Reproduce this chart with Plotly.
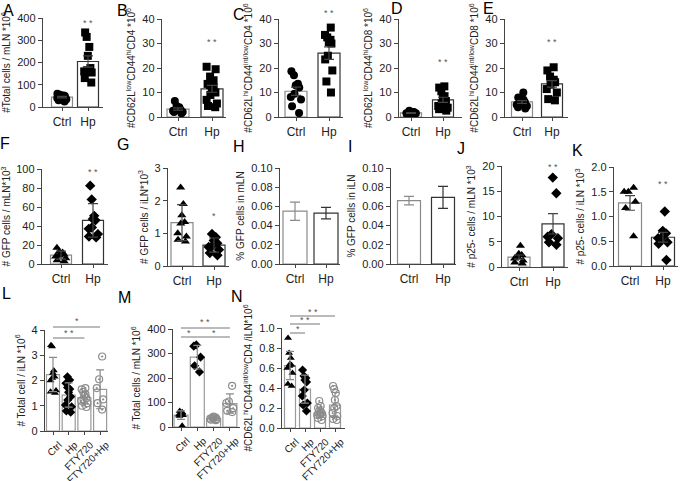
import numpy as np
import plotly.graph_objects as go

W, H = 681, 481

# ---------------- data ----------------
CAT2 = ["Ctrl", "Hp"]
CAT4 = ["Ctrl", "Hp", "FTY720", "FTY720+Hp"]

A_ctrl = [60, 55, 52, 50, 45, 40, 35, 30, 25, 50]
A_hp = [335, 315, 270, 230, 175, 165, 160, 155, 130, 110]

B_ctrl = [6.5, 4.5, 4, 3.5, 3, 3, 2.5, 2, 2, 1.5]
B_hp = [20.5, 19.5, 16.5, 15, 13.5, 13, 12, 11, 10, 9, 7, 5.5, 4.5, 4]

C_ctrl = [18.7, 17, 13.6, 13, 12, 9.5, 8.2, 7.1, 4.4, 1.6]
C_hp = [36.5, 33.5, 32.5, 31.5, 30.5, 30, 25, 23.5, 19, 14.5, 10]

D_ctrl = [2.5, 2, 2, 1.5, 1.5, 1, 1, 1.5, 2]
D_hp = [12.5, 12, 10.5, 8.5, 7.5, 6.5, 5.5, 4.5, 3.8, 3.2, 2.6]

E_ctrl = [10, 8, 7.5, 7, 6.5, 6, 5.5, 5, 4.5, 4, 3.5]
E_hp = [20.3, 19, 16.5, 15.2, 14.8, 14.2, 13.2, 11.4, 10, 7.3, 6.8]

F_ctrl = [17, 13, 12, 11, 10, 9, 8, 6, 4, 3]
F_hp = [82.5, 68, 50.7, 47.5, 46, 38.5, 37, 31.5, 29, 28]

G_ctrl = [2.4, 1.9, 1.55, 1.35, 1.3, 1.0, 0.9, 0.8, 0.75]
G_hp = [0.98, 0.88, 0.78, 0.7, 0.62, 0.58, 0.5, 0.4, 0.33]

H_mean = [0.055, 0.053]
H_err = [0.0095, 0.006]
I_mean = [0.066, 0.0694]
I_err = [0.0044, 0.0115]

J_ctrl = [4.2, 2.6, 2.4, 2.0, 1.7, 1.3, 0.9, 0.7]
J_hp = [17.7, 14.6, 6.5, 6.0, 5.7, 4.9, 4.4]

K_ctrl = [1.58, 1.5, 1.5, 1.3, 1.17, 0.6]
K_hp = [1.1, 0.71, 0.66, 0.57, 0.56, 0.48, 0.45, 0.12]

L_ctrl = [3.4, 3.35, 2.4, 2.3, 2.15, 2.1, 2.0, 1.6, 1.55, 1.5]
L_hp = [2.15, 2.02, 1.89, 1.72, 1.66, 1.53, 1.36, 1.23, 1.03, 0.96, 0.79, 0.74]
L_fty = [1.7, 1.65, 1.55, 1.45, 1.4, 1.3, 1.25, 1.2, 1.1, 1.0, 0.95]
L_ftyhp = [2.95, 2.05, 1.7, 1.25, 1.1, 0.85]

M_ctrl = [65, 60, 57, 55, 52, 50, 48, 45, 5]
M_hp = [335, 330, 285, 250, 225]
M_fty = [42, 38, 36, 34, 32, 30, 28]
M_ftyhp = [168, 104, 98, 77, 66, 61]

N_ctrl = [0.9, 0.75, 0.7, 0.64, 0.63, 0.62, 0.6, 0.55, 0.44, 0.42]
N_hp = [0.58, 0.52, 0.5, 0.48, 0.46, 0.38, 0.32, 0.25, 0.23, 0.17]
N_fty = [0.27, 0.22, 0.2, 0.17, 0.16, 0.15, 0.15, 0.14, 0.13, 0.12, 0.1, 0.08]
N_ftyhp = [0.42, 0.39, 0.35, 0.28, 0.22, 0.2, 0.15, 0.12, 0.09, 0.08]

# ---------------- styles ----------------
FONT = "Liberation Sans, Arial, sans-serif"
DARK = "#222222"
GREY = "#8c8c8c"
S2 = [("circle", "black"), ("square", "black")]
S2b = [("triangle-up", "black"), ("diamond", "black")]
S4 = [("triangle-up", "black"), ("diamond", "black"),
      ("circle-open-dot", GREY), ("circle-open-dot", GREY)]

# geometry in pixels: axis_x, end_x, first_center_x, spacing, top_y, zero_y, bar_px
panels = [
    dict(L="A", lp=(8, 10), cats=CAT2, g=[A_ctrl, A_hp], sym=S2, stat="sem", yr=400, dt=100, fmt="",
         t="#Total cells / mLN *10<sup>6</sup>", geo=(43, 103, 62, 26, 18, 107, 21),
         stars=[(1, 23, "* *")], ms=8),
    dict(L="B", lp=(123, 10), cats=CAT2, g=[B_ctrl, B_hp], sym=S2, stat="sem", yr=40, dt=10, fmt="",
         t="#CD62L<sup>low</sup>CD44<sup>hi</sup>CD4 *10<sup>6</sup>", geo=(162, 226, 178, 34, 19, 117, 22),
         stars=[(1, 42, "* *")], ms=8),
    dict(L="C", lp=(239, 14), cats=CAT2, g=[C_ctrl, C_hp], sym=S2, stat="sem", yr=40, dt=10, fmt="",
         t="#CD62L<sup>hi</sup>CD44<sup>int/low</sup>CD4 *10<sup>6</sup>", geo=(279, 343, 296, 33, 19, 117, 22),
         stars=[(1, 13, "* *")], ms=8),
    dict(L="D", lp=(397, 9), cats=CAT2, g=[D_ctrl, D_hp], sym=S2, stat="sem", yr=40, dt=10, fmt="",
         t="#CD62L<sup>low</sup>CD44<sup>hi</sup>CD8 *10<sup>6</sup>", geo=(399, 462, 411, 32, 19, 117, 21),
         stars=[(1, 62, "* *")], ms=8),
    dict(L="E", lp=(488, 8), cats=CAT2, g=[E_ctrl, E_hp], sym=S2, stat="sem", yr=40, dt=10, fmt="",
         t="#CD62L<sup>hi</sup>CD44<sup>int/low</sup>CD8 *10<sup>6</sup>", geo=(505, 568, 522, 30, 19, 117, 21),
         stars=[(1, 42, "* *")], ms=8),
    dict(L="F", lp=(5, 143), cats=CAT2, g=[F_ctrl, F_hp], sym=S2b, stat="sd", yr=100, dt=20, fmt="",
         t="# GFP cells / mLN*10<sup>3</sup>", geo=(42, 108, 61, 32, 169, 264, 21),
         stars=[(1, 172, "* *")], ms=8),
    dict(L="G", lp=(123, 145), cats=CAT2, g=[G_ctrl, G_hp], sym=S2b, stat="sd", yr=3, dt=1, fmt="",
         t="# GFP cells / iLN*10<sup>3</sup>", geo=(168, 229, 182, 32, 168, 266, 22),
         stars=[(1, 216, "*")], ms=8),
    dict(L="H", lp=(239, 146), cats=CAT2, means=H_mean, errs=H_err, yr=0.10, dt=0.02, fmt=".2f",
         t="% GFP cells in mLN", geo=(280, 340, 295, 31, 168, 264, 24), stars=[]),
    dict(L="I", lp=(350, 146), cats=CAT2, means=I_mean, errs=I_err, yr=0.10, dt=0.02, fmt=".2f",
         t="% GFP cells in iLN", geo=(391, 456, 409, 34, 168, 264, 23), stars=[]),
    dict(L="J", lp=(461, 148), cats=CAT2, g=[J_ctrl, J_hp], sym=S2b, stat="sem", yr=20, dt=5, fmt="",
         t="# p25- cells / mLN *10<sup>3</sup>", geo=(502, 568, 519, 34, 166, 267, 22),
         stars=[(1, 167, "* *")], ms=8),
    dict(L="K", lp=(577, 150), cats=CAT2, g=[K_ctrl, K_hp], sym=S2b, stat="sem", yr=2.0, dt=0.5, fmt=".1f",
         t="# p25- cells / iLN *10<sup>3</sup>", geo=(614, 678, 630, 33, 167, 266, 23),
         stars=[(1, 184, "* *")], ms=8),
    dict(L="L", lp=(6, 293), cats=CAT4, g=[L_ctrl, L_hp, L_fty, L_ftyhp], sym=S4, stat="sd", yr=4, dt=1, fmt="",
         t="# Total cell / iLN *10<sup>6</sup>", geo=(45, 108, 53, 15.7, 330, 431, 13),
         stars=[(1, 333, "* *"), (1.5, 321, "*")], lines=[(0, 2, 338), (0, 3, 327)], ms=7, rot=True),
    dict(L="M", lp=(124, 297), cats=CAT4, g=[M_ctrl, M_hp, M_fty, M_ftyhp], sym=S4, stat="sd", yr=400, dt=100, fmt="",
         t="# Total cells / mLN *10<sup>6</sup>", geo=(173, 240, 181, 16.3, 329, 427, 14),
         stars=[(1.5, 322, "* *"), (0.5, 333, "*"), (2, 333, "*")],
         lines=[(0, 3, 328), (0, 1, 337), (1, 3, 337)], ms=7, rot=True),
    dict(L="N", lp=(237, 296), cats=CAT4, g=[N_ctrl, N_hp, N_fty, N_ftyhp], sym=S4, stat="sd", yr=1.0, dt=0.2, fmt=".1f",
         t="#CD62L<sup>hi</sup>CD44<sup>int/low</sup>CD4 /iLN*10<sup>6</sup>", geo=(282, 345, 290, 15, 328, 428, 11),
         stars=[(0.5, 329, "*"), (1, 320, "* *"), (1.5, 312, "* *")],
         lines=[(0, 1, 333), (0, 2, 324), (0, 3, 316)], ms=7, rot=True),
]

fig = go.Figure()
layout = dict(width=W, height=H, margin=dict(l=0, r=0, t=0, b=0, pad=0, autoexpand=False),
              paper_bgcolor="white", plot_bgcolor="white", showlegend=False,
              font=dict(family=FONT, color=DARK, size=11), annotations=[], shapes=[])


def py(p):
    return 1 - p / H


for i, p in enumerate(panels):
    n = i + 1
    xs = "x" if n == 1 else f"x{n}"
    ys = "y" if n == 1 else f"y{n}"
    ax, ex, c0, sp, ty, zy, bpx = p["geo"]
    ncat = len(p["cats"])
    pos = list(range(ncat))
    bw = bpx / sp
    xr = [(ax - c0) / sp, (ex - c0) / sp]

    if "g" in p:
        means = [float(np.mean(v)) for v in p["g"]]
        if p["stat"] == "sd":
            errs = [float(np.std(v, ddof=1)) for v in p["g"]]
        else:
            errs = [float(np.std(v, ddof=1) / np.sqrt(len(v))) for v in p["g"]]
    else:
        means, errs = p["means"], p["errs"]

    if ncat == 2:
        outl = ["#8a8a8a", "#333333"]
    else:
        outl = ["#9a9a9a"] * 4

    fig.add_trace(go.Bar(x=pos, y=means, width=bw, xaxis=xs, yaxis=ys, hoverinfo="skip",
                         marker=dict(color="white", line=dict(color=outl, width=1.2))))
    if "g" in p:
        for k, vals in enumerate(p["g"]):
            sym, col = p["sym"][k]
            fig.add_trace(go.Box(x=[k] * len(vals), y=vals, xaxis=xs, yaxis=ys,
                                 boxpoints="all", jitter=0.6, pointpos=0, width=bw,
                                 line=dict(width=0), fillcolor="rgba(0,0,0,0)", hoverinfo="skip",
                                 marker=dict(symbol=sym, color=col, size=p["ms"],
                                             line=dict(color=col, width=1.2 if "open" in sym else 0))))
    for k in range(ncat):
        ecol = outl[k] if ncat == 2 and "g" not in p else ("#444444" if ncat == 2 else "#8a8a8a")
        fig.add_trace(go.Scatter(x=[k], y=[means[k]], mode="markers", xaxis=xs, yaxis=ys,
                                 hoverinfo="skip",
                                 marker=dict(size=1, color="rgba(0,0,0,0)"),
                                 error_y=dict(type="data", array=[errs[k]], color=ecol,
                                              thickness=1.2, width=5 if ncat == 2 else 4)))

    yr = p["yr"]
    xax = dict(domain=[ax / W, ex / W], range=xr, anchor=ys, automargin=False,
               tickmode="array", tickvals=pos, ticktext=p["cats"],
               showline=True, linecolor="#444444", linewidth=1.2,
               ticks="outside", ticklen=3, tickcolor="#444444",
               tickangle=-45 if p.get("rot") else 0,
               tickfont=dict(size=10 if p.get("rot") else 12, color=DARK),
               showgrid=False, zeroline=False, fixedrange=True)
    if p.get("rot"):
        xax["ticklabelshift"] = 6
    layout[f"xaxis{n}"] = xax
    layout[f"yaxis{n}"] = dict(domain=[py(zy), py(ty)], range=[0, yr], anchor=xs, automargin=False,
                               tick0=0, dtick=p["dt"], tickformat=p["fmt"],
                               showline=True, linecolor="#444444", linewidth=1.2,
                               ticks="outside", ticklen=4, tickcolor="#444444",
                               tickfont=dict(size=11, color=DARK),
                               title=dict(text=p["t"], font=dict(size=10, color=DARK), standoff=4),
                               showgrid=False, zeroline=False, fixedrange=True)

    # panel letter
    lx, ly = p["lp"]
    layout["annotations"].append(dict(text=p["L"], x=lx / W, y=py(ly), xref="paper", yref="paper",
                                      showarrow=False, font=dict(size=16, color="black"),
                                      xanchor="center", yanchor="middle"))
    for (sx, sy, st) in p["stars"]:
        layout["annotations"].append(dict(text=st, x=sx, y=py(sy), xref=xs, yref="paper",
                                          showarrow=False, font=dict(size=9, color="#555555"),
                                          xanchor="center", yanchor="middle"))
    for (x0, x1, ly_) in p.get("lines", []):
        layout["shapes"].append(dict(type="line", x0=x0, x1=x1, y0=py(ly_), y1=py(ly_),
                                     xref=xs, yref="paper", line=dict(color="#777777", width=1)))

fig.update_layout(**layout)
fig.write_html("out.html", config={"displayModeBar": False, "staticPlot": True},
               post_script="document.body.style.margin='0px';document.body.style.overflow='hidden';")
